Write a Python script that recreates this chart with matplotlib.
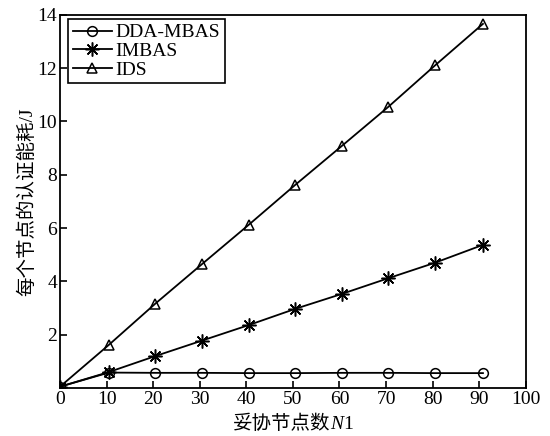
import matplotlib
matplotlib.use("Agg")
from matplotlib import pyplot as plt
from matplotlib.ticker import MultipleLocator
from matplotlib.offsetbox import TextArea, HPacker, AnchoredOffsetbox

plt.rcParams['font.family'] = ['Liberation Serif', 'Noto Sans CJK SC']

# compromised node count (x) and per-node auth energy (J)
n_nodes = [0, 10.5, 20.5, 30.5, 40.5, 50.5, 60.5, 70.5, 80.5, 90.8]
dda_mbas = [0.05, 0.58, 0.57, 0.57, 0.56, 0.56, 0.57, 0.57, 0.56, 0.56]
imbas = [0.05, 0.60, 1.20, 1.78, 2.36, 2.97, 3.53, 4.12, 4.70, 5.37]
ids = [0.05, 1.62, 3.17, 4.65, 6.12, 7.62, 9.08, 10.55, 12.10, 13.66]

fig = plt.figure(figsize=(5.5, 4.36), dpi=100)
ax = fig.add_axes([0.109, 0.110, 0.847, 0.856])

style = dict(color="black", lw=1.3, mfc="none", mec="black", mew=1.1)
ax.plot(n_nodes, dda_mbas, marker="o", ms=7, label="DDA-MBAS", **style)
ax.plot(n_nodes, imbas, marker=(8, 2, 0), ms=10, label="IMBAS", **style)
ax.plot(n_nodes, ids, marker="^", ms=7.5, label="IDS", **style)

ax.set_xlim(0, 100)
ax.set_ylim(0, 14)
ax.xaxis.set_major_locator(MultipleLocator(10))
ax.set_yticks([2, 4, 6, 8, 10, 12, 14])
ax.tick_params(direction="in", length=5, width=1.2, labelsize=14,
               top=False, right=False, pad=2)
for s in ax.spines.values():
    s.set_linewidth(1.3)

# x label: chinese text + italic N + 1
parts = [
    TextArea("妥协节点数", textprops=dict(fontsize=14, family=["Noto Sans CJK SC"])),
    TextArea("N", textprops=dict(fontsize=14, family="Liberation Serif", style="italic")),
    TextArea("1", textprops=dict(fontsize=14, family="Liberation Serif")),
]
xlab = HPacker(children=parts, align="baseline", pad=0, sep=0)
ab = AnchoredOffsetbox(loc="upper center", child=xlab, pad=0, borderpad=0,
                       bbox_to_anchor=(0.5, -0.068), bbox_transform=ax.transAxes,
                       frameon=False)
ax.add_artist(ab)

ax.set_ylabel("每个节点的认证能耗/J", fontsize=14, labelpad=1)

leg = ax.legend(loc="upper left", bbox_to_anchor=(0.017, 0.989), fontsize=14,
                handlelength=2, handletextpad=0.2, borderpad=0.25,
                labelspacing=0.05, borderaxespad=0, fancybox=False, framealpha=1)
leg.get_frame().set_edgecolor("black")
leg.get_frame().set_linewidth(1.2)

fig.savefig("out.png", dpi=100)
